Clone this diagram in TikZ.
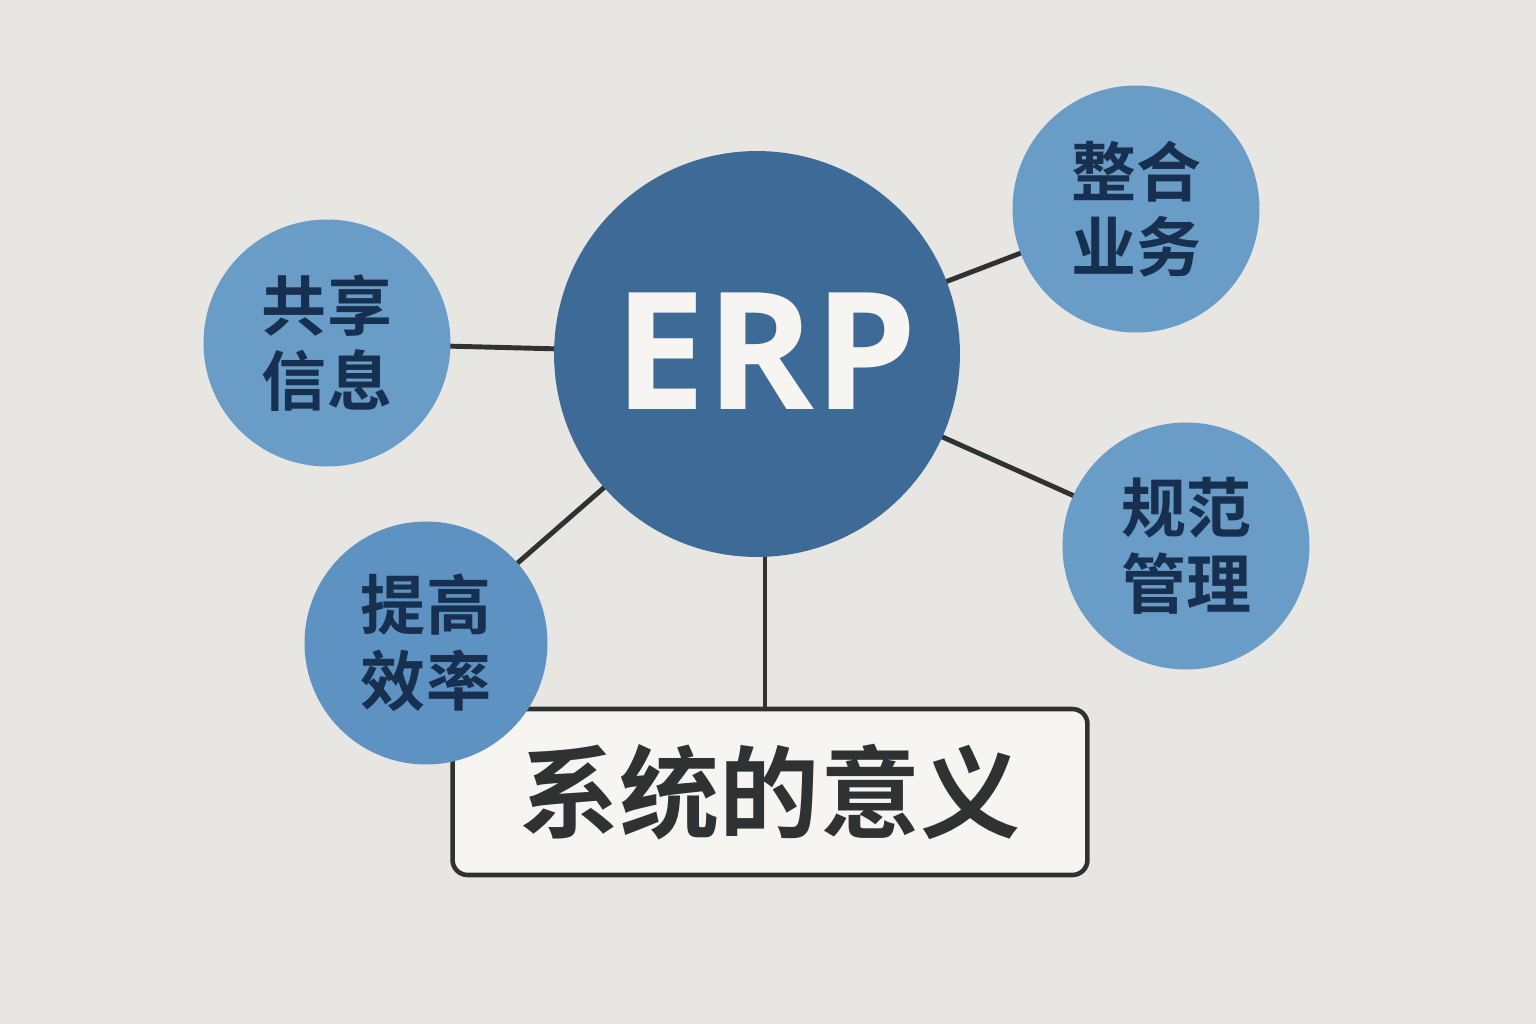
\documentclass[tikz,border=0pt]{standalone}
\usepackage{fontspec}
\setmainfont{Open Sans}
\newfontfamily\cjk{Noto Sans CJK SC}[UprightFont={* Medium}, BoldFont={* Bold}]
\definecolor{bg}{HTML}{E7E6E2}
\definecolor{erpblue}{HTML}{3D6A96}
\definecolor{lightblue}{HTML}{6A9CC8}
\definecolor{midblue}{HTML}{5E92C2}
\definecolor{navy}{HTML}{17304F}
\definecolor{linegray}{HTML}{2F3230}
\definecolor{boxfill}{HTML}{F6F5F2}
\definecolor{boxtext}{HTML}{2F3232}
\tikzset{
  hub/.style={circle, fill=erpblue, minimum size=8.12cm, inner sep=0pt,
    text=boxfill, font=\bfseries\fontsize{93}{100}\selectfont},
  topic/.style={circle, fill=lightblue, minimum size=4.94cm, inner sep=0pt,
    text=navy, align=center, font=\cjk\bfseries\fontsize{37}{43}\selectfont},
  link/.style={draw=linegray, line width=2.8pt},
  titlebox/.style={draw=linegray, line width=2.6pt, fill=boxfill, rounded corners=0.3cm,
    minimum width=12.7cm, minimum height=3.32cm, inner sep=0pt,
    text=boxtext, font=\cjk\bfseries\fontsize{57}{60}\selectfont}
}
\begin{document}
\begin{tikzpicture}[x=0.02cm,y=-0.02cm]
\fill[bg] (0,0) rectangle (1536,1024);
\useasboundingbox (0,0) rectangle (1536,1024);
% node placement (coordinates first for connectors)
\coordinate (cerp) at (757,354);
\coordinate (cshare) at (327,343);
\coordinate (cint) at (1136,209);
\coordinate (cnorm) at (1186,546);
\coordinate (ceff) at (426,643);
\coordinate (cbox) at (770,792);
\coordinate (cdrop) at (765,792);
% connectors
\draw[link] (cerp) -- (cshare);
\draw[link] (cerp) -- (cint);
\draw[link] (cerp) -- (cnorm);
\draw[link] (cerp) -- (ceff);
\draw[link] (cdrop) -- (cdrop |- cerp);
% shapes
\node[titlebox] (box) at (cbox) {系统的意义};
\node[hub] (erp) at (cerp) {\raisebox{3pt}{\hspace{10pt}ERP}};
\node[topic] (share) at (cshare) {共享\\信息};
\node[topic] (int) at (cint) {整合\\业务};
\node[topic] (norm) at (cnorm) {规范\\管理};
\node[topic, fill=midblue, minimum size=4.86cm] (eff) at (ceff) {提高\\效率};
\end{tikzpicture}
\end{document}
